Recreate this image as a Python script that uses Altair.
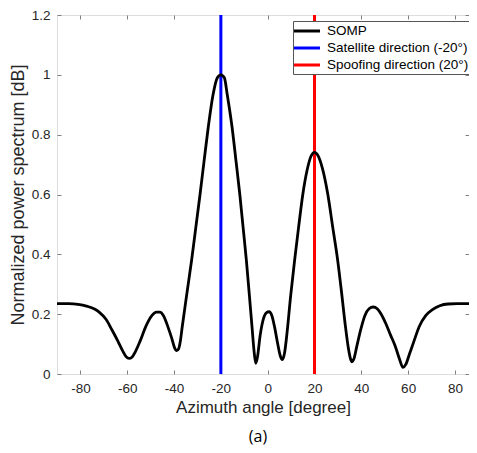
import altair as alt
import pandas as pd

# ---- data ----
azimuth = [-90, -85, -81, -77, -74, -72, -69, -66.5, -64, -62, -60.5, -59.2, -58, -56.5,
           -54.5, -52, -49.5, -47.5, -46, -44.5, -42.5, -41, -39.8, -38.9, -38, -37.3,
           -36.5, -34.5, -32.5, -30.7, -28.9, -27.2, -25.4, -23.3, -21.5, -20, -18.5,
           -17.3, -15.2, -13.5, -11.9, -10.5, -9.1, -7.9, -6.7, -5.8, -5.1, -4.4, -3.2,
           -1.8, -0.5, 0.6, 1.8, 3, 4.3, 5.4, 6.3, 7.2, 8.3, 9.8, 11.5, 13.2, 15, 16.8,
           18.5, 20, 21.5, 23.3, 25.7, 27.8, 29.9, 31.6, 33.2, 34.6, 35.4, 36, 36.8, 38,
           39.8, 41.5, 43.3, 45.1, 46.8, 48.5, 50.5, 52.5, 54.5, 56.3, 57.8, 59, 60.5,
           62.5, 64.7, 67.5, 70.4, 73.5, 77, 81, 90]
power = [0.235, 0.235, 0.233, 0.226, 0.217, 0.207, 0.182, 0.147, 0.11, 0.078, 0.058, 0.052,
         0.056, 0.075, 0.11, 0.16, 0.195, 0.207, 0.207, 0.195, 0.155, 0.12, 0.088, 0.078,
         0.085, 0.11, 0.158, 0.27, 0.38, 0.49, 0.60, 0.71, 0.824, 0.935, 0.99, 1.0, 0.99,
         0.935, 0.824, 0.71, 0.60, 0.49, 0.38, 0.27, 0.158, 0.075, 0.036, 0.055, 0.13,
         0.185, 0.205, 0.208, 0.195, 0.155, 0.10, 0.06, 0.048, 0.07, 0.14, 0.26, 0.38,
         0.49, 0.60, 0.68, 0.728, 0.741, 0.73, 0.69, 0.60, 0.49, 0.38, 0.27, 0.16, 0.08,
         0.05, 0.041, 0.05, 0.09, 0.15, 0.195, 0.218, 0.224, 0.218, 0.2, 0.168, 0.13,
         0.093, 0.05, 0.022, 0.032, 0.065, 0.11, 0.158, 0.195, 0.215, 0.228, 0.234,
         0.235, 0.235]

series_names = ["SOMP", "Satellite direction (-20\u00b0)", "Spoofing direction (20\u00b0)"]
series_colors = ["#000000", "#0000ff", "#ff0000"]
direction_angles = [-20, 20]
direction_names = series_names[1:]

x_ticks = [-80, -60, -40, -20, 0, 20, 40, 60, 80]
y_ticks = [0, 0.2, 0.4, 0.6, 0.8, 1, 1.2]
x_domain = [-90, 86]   # right edge of the reference is cropped
y_domain = [0, 1.2]

curve = pd.DataFrame({"az": azimuth, "p": power, "series": series_names[0]})
dirs = pd.DataFrame({"az": direction_angles, "series": direction_names})

FONT = "Liberation Sans"
AX = "#808080"
TXT = "#262626"

xscale = alt.Scale(domain=x_domain, nice=False, zero=False)
yscale = alt.Scale(domain=y_domain, nice=False, zero=False)
cscale = alt.Scale(domain=series_names, range=series_colors)

legend = alt.Legend(
    title=None, orient="none", legendX=236, legendY=6, padding=2,
    strokeColor="#555555", fillColor="white",
    labelFont=FONT, labelFontSize=13.5, labelColor="#000000",
    symbolType="M-2,0H2", symbolSize=169, symbolStrokeWidth=3,
    symbolOffset=4, labelOffset=12, rowPadding=2,
)

x_bottom = alt.Axis(values=x_ticks, orient="bottom", offset=-4, tickSize=4, domain=False,
                    grid=False, tickColor=AX, labelPadding=7, labelFont=FONT,
                    labelFontSize=13.5, labelColor=TXT, labelExpr="'' + datum.value",
                    title="Azimuth angle [degree]", titleFont=FONT, titleFontSize=17,
                    titleFontWeight="normal", titleColor=TXT, titlePadding=5)
y_left = alt.Axis(values=y_ticks, orient="left", offset=-4, tickSize=4, domain=False,
                  grid=False, tickColor=AX, labelPadding=7, labelFont=FONT,
                  labelFontSize=13.5, labelColor=TXT, labelExpr="'' + datum.value",
                  title="Normalized power spectrum [dB]", titleFont=FONT,
                  titleFontSize=18, titleFontWeight="normal", titleColor=TXT,
                  titlePadding=4)
x_top = alt.Axis(values=x_ticks, orient="top", offset=-4, tickSize=4, domain=False,
                 grid=False, tickColor=AX, labels=False, title=None)
y_right = alt.Axis(values=y_ticks, orient="right", offset=-4, tickSize=4, domain=False,
                   grid=False, tickColor=AX, labels=False, title=None)

line = alt.Chart(curve).mark_line(strokeWidth=2.8, interpolate="monotone",
                                  strokeJoin="round", clip=True).encode(
    x=alt.X("az:Q", scale=xscale, axis=x_bottom),
    y=alt.Y("p:Q", scale=yscale, axis=y_left),
    color=alt.Color("series:N", scale=cscale, legend=legend),
)

rules = alt.Chart(dirs).mark_rule(strokeWidth=3).encode(
    x=alt.X("az:Q", scale=xscale, axis=None),
    color=alt.Color("series:N", scale=cscale, legend=legend),
)

frame_ticks = alt.Chart(curve).mark_line(opacity=0, clip=True).encode(
    x=alt.X("az:Q", scale=xscale, axis=x_top),
    y=alt.Y("p:Q", scale=yscale, axis=y_right),
)

chart = alt.layer(rules, line, frame_ticks).resolve_axis(
    x="independent", y="independent"
).properties(
    width=412, height=359,
    autosize=alt.AutoSizeParams(type="none"),
    padding={"left": 49, "top": 7, "right": 0, "bottom": 71},
    title=alt.TitleParams("(a)", orient="bottom", anchor="middle", font="Open Sans",
                          fontSize=16, fontWeight="normal", color="#000000",
                          offset=13, dx=-5),
).configure_view(stroke=AX, strokeWidth=1).configure(background="white")

chart.save("out.html", embed_options={"renderer": "svg", "actions": False})
